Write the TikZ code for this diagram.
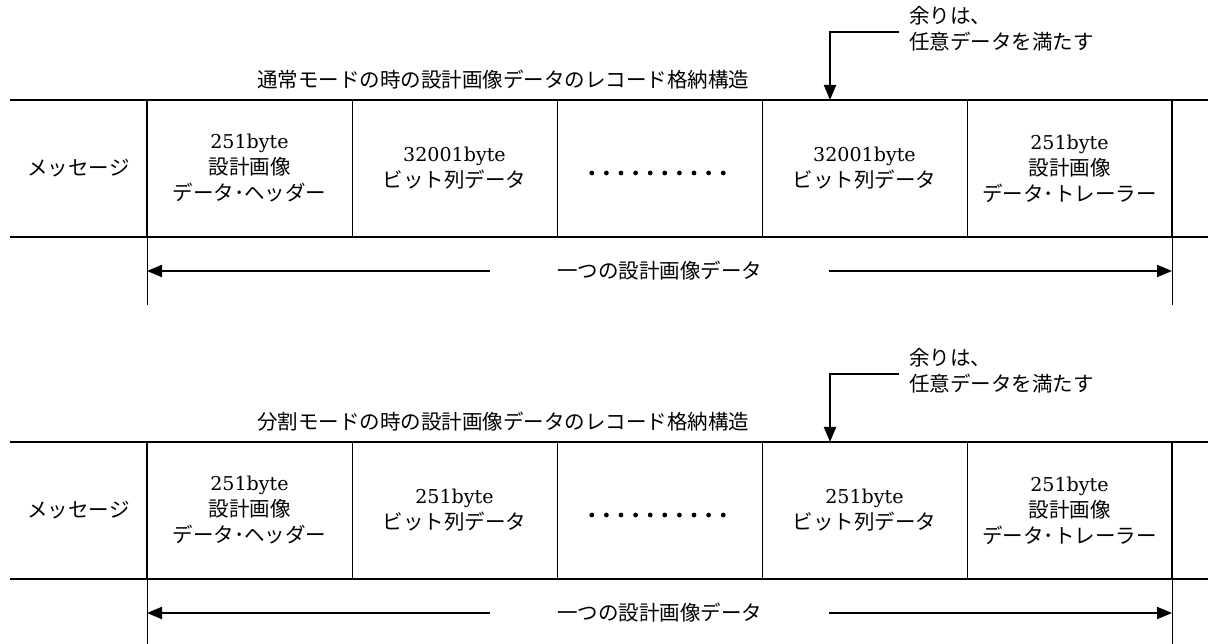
\documentclass[tikz,border=0pt]{standalone}
\usepackage{fontspec}
\newfontfamily\latin[Scale=0.93]{DejaVu Serif}
\newfontfamily\cjk{Noto Sans CJK JP}
\usetikzlibrary{arrows.meta, positioning}

\begin{document}
\begin{tikzpicture}[x=1pt, y=1pt, every node/.style={font=\fontsize{20.5}{26}\selectfont, inner sep=0pt, outer sep=0pt},
  cell/.style={minimum width=205pt, minimum height=137pt, align=center},
  rule/.style={line width=2pt},
  sep/.style={line width=1pt},
  tip/.style={line width=2pt, -{Triangle[length=15pt, width=12pt]}}]
  \useasboundingbox (0,0) rectangle (1208,643);
  \foreach \dy/\modename/\nbytes in {0/通常/32001, 342/分割/251} {
  \begin{scope}[yshift=-\dy pt, name prefix=p\dy-]
    \node[cell, minimum width=137pt] (msg) at (78.5,474.5) {\cjk メッセージ};
    \node[cell, right=0pt of msg] (hdr) {{\latin 251byte}\\{\cjk 設計画像}\\{\cjk データ･ヘッダー}};
    \node[cell, right=0pt of hdr] (bitsA) {{\latin \nbytes byte}\\{\cjk ビット列データ}};
    \node[cell, right=0pt of bitsA] (dots) {};
    \node[cell, right=0pt of dots] (bitsB) {{\latin \nbytes byte}\\{\cjk ビット列データ}};
    \node[cell, right=0pt of bitsB] (trl) {{\latin 251byte}\\{\cjk 設計画像}\\{\cjk データ･トレーラー}};
    \draw[rule] (msg.north west) -- ++(1198,0);
    \draw[rule] (msg.south west) -- ++(1198,0);
    \draw[rule] (hdr.north west) -- (hdr.south west);
    \draw[rule] (trl.north east) -- (trl.south east);
    \draw[sep] (hdr.north east) -- (hdr.south east) (bitsA.north east) -- (bitsA.south east)
      (dots.north east) -- (dots.south east) (bitsB.north east) -- (bitsB.south east);
    \draw[sep] (hdr.south west) -- ++(0,-68) (trl.south east) -- ++(0,-68);
    \foreach \i in {0,...,9}
      \fill ([xshift=\i*14.6pt-67.7pt, yshift=-4.5pt]dots.center) circle (2.4pt);
    % span of one image record
    \node (span) at ([yshift=-34pt]dots.south) {\cjk 一つの設計画像データ};
    \draw[tip] ([xshift=-67pt]span.west) -- (span.west -| hdr.west);
    \draw[tip] ([xshift=67pt]span.east) -- (span.east -| trl.east);
    \node (ttl) at (503,563) {\cjk \modename モードの時の設計画像データのレコード格納構造};
    \node[align=left, anchor=west] (note) at (909,614.5) {{\cjk 余りは、}\\{\cjk 任意データを満たす}};
    \draw[tip] ([xshift=-10pt, yshift=-3.5pt]note.west) -| ([xshift=68pt]bitsB.north west);
  \end{scope}
  }
\end{tikzpicture}
\end{document}
